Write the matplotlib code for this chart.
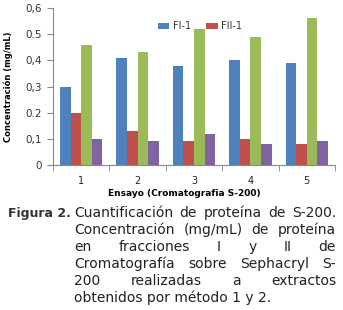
import numpy as np
import matplotlib
matplotlib.use("Agg")
import matplotlib.pyplot as plt
from matplotlib.ticker import FixedLocator

# data
ensayos = ["1", "2", "3", "4", "5"]
fi_1 = [0.30, 0.41, 0.38, 0.40, 0.39]
fii_1 = [0.20, 0.13, 0.09, 0.10, 0.08]
serie_3 = [0.46, 0.43, 0.52, 0.49, 0.56]
serie_4 = [0.10, 0.09, 0.12, 0.08, 0.09]
y_ticks = [0, 0.1, 0.2, 0.3, 0.4, 0.5, 0.6]
y_tick_labels = ["0", "0,1", "0.2", "0,3", "0,4", "0.5", "0,6"]

caption_head = "Figura 2."
caption_lines = [
    "Cuantificación de proteína de S-200.",
    "Concentración (mg/mL) de proteína",
    "en fracciones I y II de",
    "Cromatografía sobre Sephacryl S-",
    "200 realizadas a extractos",
    "obtenidos por método 1 y 2.",
]

W, H = 343, 310
fig = plt.figure(figsize=(W / 100, H / 100), dpi=100)
ax = fig.add_axes([53 / W, 1 - 165 / H, 282 / W, 157 / H])

colors = ["#4F81BD", "#C0504D", "#9BBB59", "#8064A2"]
series = [fi_1, fii_1, serie_3, serie_4]
labels = ["FI-1", "FII-1", None, None]
x = np.arange(len(ensayos))
bw = 0.1875
handles = []
for i, (vals, c, lab) in enumerate(zip(series, colors, labels)):
    b = ax.bar(x + (i - 1.5) * bw, vals, bw, color=c, edgecolor="none", label=lab)
    if lab:
        handles.append(b)

ax.set_xlim(-0.5, 4.5)
ax.set_ylim(0, 0.6)
ax.set_yticks(y_ticks)
ax.set_yticklabels(y_tick_labels, fontsize=7.5, color="#333333")
ax.set_xticks(x)
ax.set_xticklabels(ensayos, fontsize=7, color="#222222")
ax.xaxis.set_minor_locator(FixedLocator(np.arange(-0.5, 5, 1)))
ax.tick_params(axis="x", which="major", length=0, pad=8)
ax.tick_params(axis="x", which="minor", length=4, color="#888888")
ax.tick_params(axis="y", length=4, color="#888888", pad=4)
for s in ["top", "right"]:
    ax.spines[s].set_visible(False)
ax.spines["left"].set_color("#888888")
ax.spines["bottom"].set_color("#888888")

ax.set_ylabel("Concentración (mg/mL)", fontsize=6, fontweight="bold", labelpad=9)
ax.set_xlabel("Ensayo (Cromatografia S-200)", fontsize=6.5, fontweight="bold")
ax.xaxis.set_label_coords(0.465, -0.15)
ax.xaxis.label.set_verticalalignment("top")

ax.legend(handles=handles, labels=["FI-1", "FII-1"], loc="upper left",
          bbox_to_anchor=(0.34, 0.97), ncol=2, frameon=False, fontsize=7,
          handlelength=1.2, handleheight=0.7, handletextpad=0.4, columnspacing=1.5,
          labelcolor="#333333")

# caption with justified lines
fig.text(8 / W, 1 - 213 / H, caption_head, fontsize=9, fontweight="bold",
         color="#333333", va="center", ha="left")
renderer = fig.canvas.get_renderer()
x0, x1 = 74, 336
fs = 10
for k, line in enumerate(caption_lines):
    yc = 1 - (213 + 17 * k) / H
    words = line.split()
    if k == len(caption_lines) - 1:
        fig.text(x0 / W, yc, line, fontsize=fs, color="#222222", va="center")
        continue
    widths = []
    for w in words:
        t = fig.text(0, 0, w, fontsize=fs)
        widths.append(t.get_window_extent(renderer).width)
        t.remove()
    gap = (x1 - x0 - sum(widths)) / max(len(words) - 1, 1)
    pos = x0
    for w, wd in zip(words, widths):
        fig.text(pos / W, yc, w, fontsize=fs, color="#222222", va="center")
        pos += wd + gap

fig.savefig("out.png", dpi=100)
